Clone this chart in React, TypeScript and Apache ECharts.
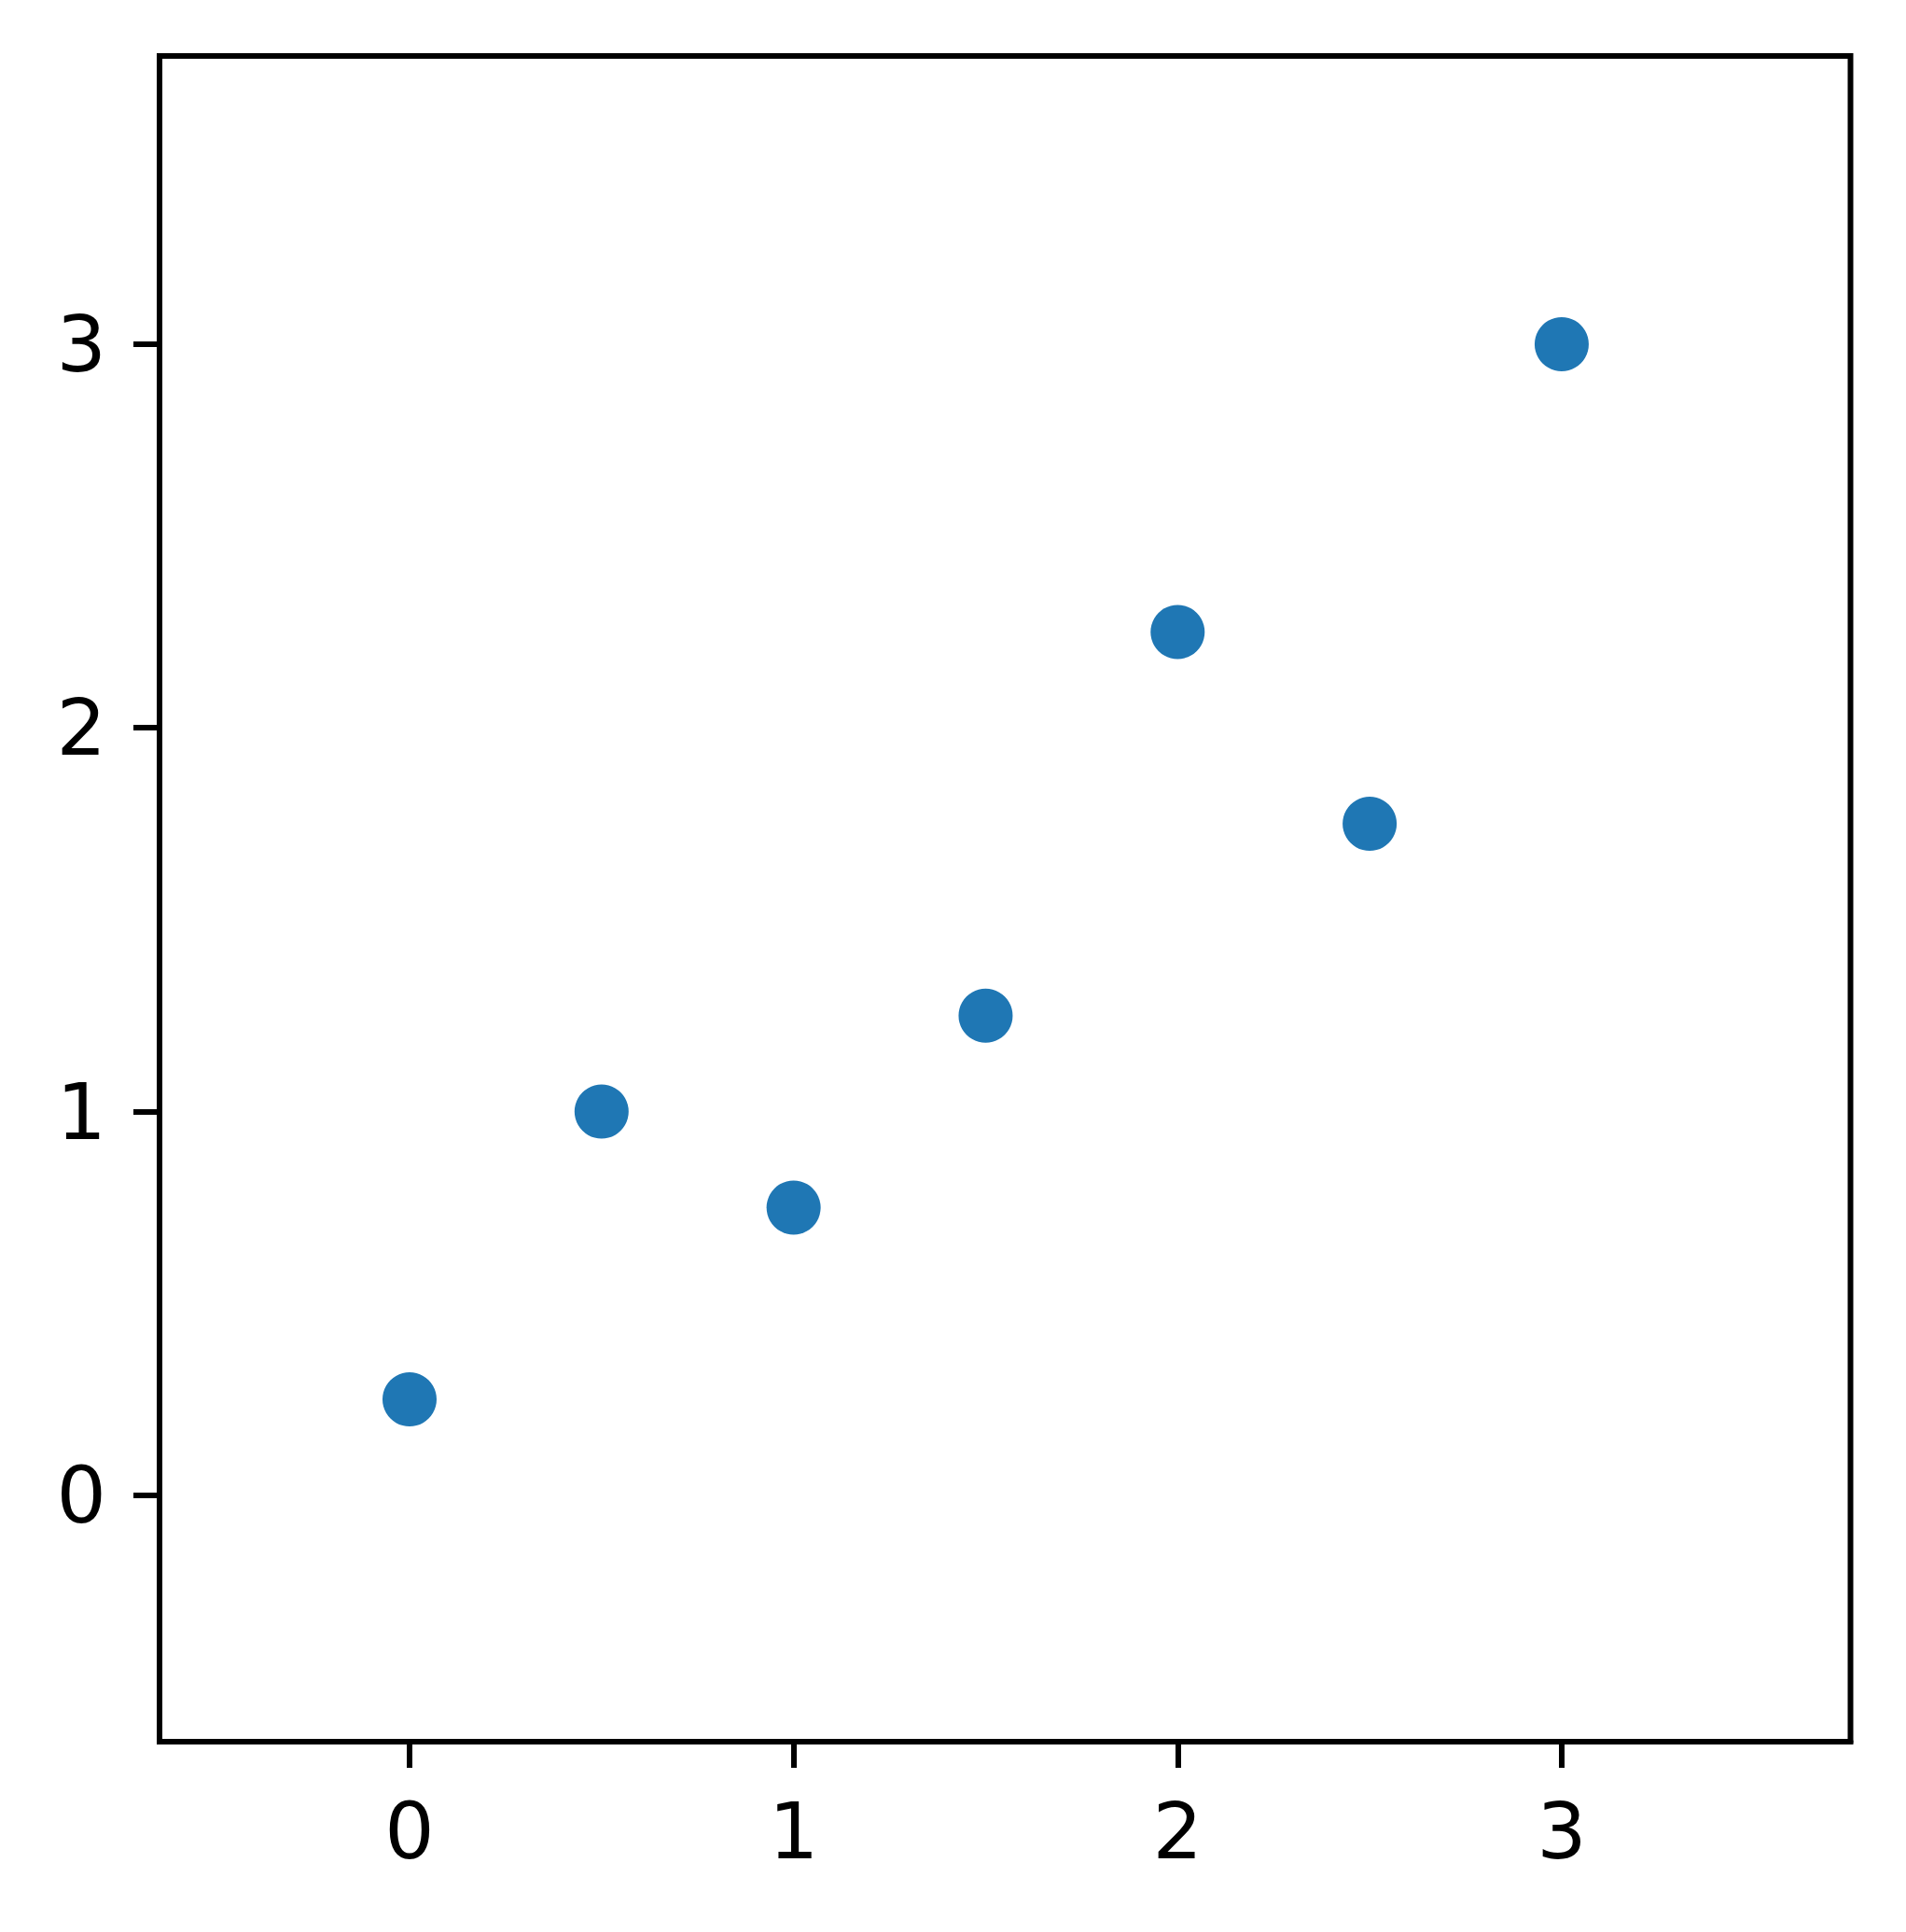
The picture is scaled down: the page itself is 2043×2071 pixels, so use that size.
import React, { useEffect, useRef } from "react";
import * as echarts from "echarts";

const xValues = [0, 0.5, 1, 1.5, 2, 2.5, 3];
const yValues = [0.25, 1, 0.75, 1.25, 2.25, 1.75, 3];
const xTicks = [0, 1, 2, 3];
const yTicks = [0, 1, 2, 3];

export default function App() {
  const ref = useRef<HTMLDivElement>(null);
  useEffect(() => {
    document.body.style.margin = "0";
    const chart = echarts.init(ref.current!, null, { renderer: "svg" });
    const font = "DejaVu Sans";
    chart.setOption({
      animation: false,
      backgroundColor: "#ffffff",
      grid: {
        left: 171,
        top: 60,
        width: 1812.5,
        height: 1807,
        show: true,
        borderColor: "#000000",
        borderWidth: 6,
        backgroundColor: "transparent",
        containLabel: false,
      },
      xAxis: {
        type: "value",
        min: -0.651,
        max: 3.752,
        splitLine: { show: false },
        axisLine: { show: true, onZero: false, lineStyle: { color: "#000", width: 6 } },
        axisTick: {
          show: true,
          inside: false,
          length: 28,
          customValues: xTicks,
          lineStyle: { color: "#000", width: 6 },
        },
        axisLabel: {
          show: true,
          customValues: xTicks,
          margin: 54,
          fontFamily: font,
          fontSize: 84,
          color: "#000",
        },
      },
      yAxis: {
        type: "value",
        min: -0.642,
        max: 3.751,
        splitLine: { show: false },
        axisLine: { show: true, onZero: false, lineStyle: { color: "#000", width: 6 } },
        axisTick: {
          show: true,
          inside: false,
          length: 28,
          customValues: yTicks,
          lineStyle: { color: "#000", width: 6 },
        },
        axisLabel: {
          show: true,
          customValues: yTicks,
          margin: 57,
          fontFamily: font,
          fontSize: 84,
          color: "#000",
        },
      },
      series: [
        {
          type: "scatter",
          data: xValues.map((x, i) => [x, yValues[i]]),
          symbol: "circle",
          symbolSize: 58,
          itemStyle: { color: "#1f77b4", opacity: 1 },
        },
      ],
    });
    return () => chart.dispose();
  }, []);
  return (
    <div
      ref={ref}
      style={{ position: "absolute", left: 0, top: 0, width: 2043, height: 2071 }}
    />
  );
}
